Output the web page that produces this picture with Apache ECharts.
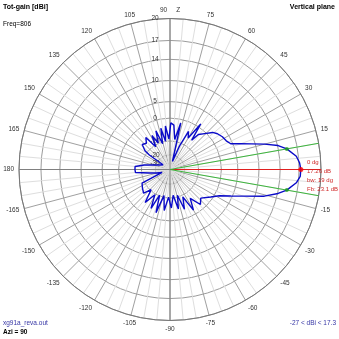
<!DOCTYPE html>
<html><head><meta charset="utf-8">
<script src="https://cdn.jsdelivr.net/npm/echarts@6/dist/echarts.min.js"></script>
<style>html,body{margin:0;padding:0;background:#fff}#c{width:339px;height:339px}</style>
</head><body><div id="c"></div>
<script>
// ---- data ----
const ringLabels = [20, 17, 14, 10, 5, 0, -10, -20, -30];
const patternAngles = [-180,-175,-170,-165,-160,-154,-146,-138,-133,-127,-121,-116,-112,-108,-103,-98,-93,-88,-83,-78,-74,-70,-65,-60,-55,-49,-43,-34,-28,-23.5,-20,-15.8,-12.5,-10,-6,-3,
  0,3,6,10,12.5,15,17.5,20,23,27,32,37,41,46,51,53.5,56,60,64,68,73,77,81,85,89,92,96,99,102.5,106,110,114,118,122,127,132,138,143,145,146,155,160,165,170,175,180];
const patternGain = [-6.6,-6.8,-15.3,-21,-27,-8.6,-7.5,-6.4,-10.5,-3.8,-9.5,-3.0,-10.5,-2.2,-11,-3.8,-10.5,-5.0,-11.5,-4.2,-11,-3.4,-9,-1.6,-6.5,-1.8,-3.5,-0.8,1.5,4.6,7.5,11.8,14.1,15.4,16.7,17.2,
  17.26,17.1,16.7,15.4,14.1,11.8,9.2,6.9,4.5,3.7,3.3,2.6,1.7,-0.5,-2.3,-6,1.2,-6,-3.4,-12,-27,-1.3,-9,-2.5,-1.7,-9,-2.8,-10,-3.4,-11,-3.9,-9.7,-5,-11,-4.3,-6.5,-5.5,-8.5,-12,-27,-24.2,-21.4,-17.5,-11.4,-6.6,-6.6];
const maxAngle = 0, maxGain = 17.26;
const halfPowerAngles = [10, -10];
const halfPowerGain = [15.4, 15.4];
const infoLines = ['0 dg', '17.26 dB', 'bw: 19 dg', 'Fb: 23.1 dB'];

// ---- scale helpers (log-periodic radial scale) ----
const TOP = 20, K = 0.05;
const toV = db => Math.exp(K * (db - TOP));
const V0 = 0.0421;
const toA = a => ((((a - 90) % 360) + 360) % 360) + 90;

const FONT = 'Liberation Sans, Arial, sans-serif';
const chart = echarts.init(document.getElementById('c'), null, {renderer: 'canvas'});
const pt = (a, g) => [toV(g), toA(a)];
const lineS = (data, color, z, w) => ({type: 'line', coordinateSystem: 'polar', data, symbol: 'none', silent: true, animation: false, z, lineStyle: {color, width: w || 1}});

chart.setOption({
  backgroundColor: '#fff',
  animation: false,
  polar: {center: [170, 169.5], radius: [0, 151]},
  angleAxis: {
    type: 'value', min: 90, max: 450, interval: 15, startAngle: 90, clockwise: false,
    axisLine: {lineStyle: {color: '#777', width: 1}},
    axisTick: {show: false},
    minorTick: {show: false, splitNumber: 3},
    minorSplitLine: {show: true, lineStyle: {color: '#dedede', width: 1}},
    splitLine: {show: true, lineStyle: {color: '#a0a0a0', width: 1}},
    axisLabel: {
      margin: 5, fontSize: 6.5, color: '#333', fontFamily: FONT,
      formatter: v => { const a = v > 180 ? v - 360 : v; return a === 90 ? '90     Z' : (a === 0 ? '' : String(a)); }
    }
  },
  radiusAxis: {
    type: 'value', min: V0, max: 1,
    axisLine: {show: false},
    axisTick: {show: false, customValues: ringLabels.map(toV)},
    axisLabel: {
      customValues: ringLabels.map(toV), margin: 15, align: 'center',
      fontSize: 6.5, color: '#333', fontFamily: FONT,
      formatter: v => String(Math.round(TOP + Math.log(v) / K))
    },
    splitLine: {show: true, lineStyle: {color: '#9c9c9c', width: 1}}
  },
  series: [
    lineS([[1, 90], [1, 270]], '#808080', 3),
    lineS([[1, 180], [V0, 180]], '#808080', 3),
    lineS([[V0, toA(maxAngle)], [1, toA(maxAngle)]], '#e02020', 4),
    lineS([[1, toA(halfPowerAngles[0])], [V0, toA(0)], [1, toA(halfPowerAngles[1])]], '#3cb43c', 4),
    lineS(patternAngles.map((a, i) => pt(a, patternGain[i])), '#0a0ac8', 5, 1.4),
    {type: 'scatter', coordinateSystem: 'polar', symbolSize: 5, z: 6, silent: true,
     itemStyle: {color: '#ff0000'}, data: [pt(maxAngle, maxGain)]},
    {type: 'scatter', coordinateSystem: 'polar', symbolSize: 4, z: 6, silent: true,
     itemStyle: {color: '#20a020'}, data: halfPowerAngles.map((a, i) => pt(a, halfPowerGain[i]))}
  ],
  graphic: [
    {type: 'text', x: 3, y: 7, style: {text: 'Tot-gain [dBi]', font: 'bold 7px ' + FONT, fill: '#000', verticalAlign: 'middle'}},
    {type: 'text', x: 3, y: 24, style: {text: 'Freq=806', font: '6.5px ' + FONT, fill: '#000', verticalAlign: 'middle'}},
    {type: 'text', x: 335, y: 7, style: {text: 'Vertical plane', font: 'bold 7px ' + FONT, fill: '#000', align: 'right', verticalAlign: 'middle'}},
    {type: 'text', x: 3, y: 323.5, style: {text: 'xg91a_reva.out', font: '6.5px ' + FONT, fill: '#3535a5', verticalAlign: 'middle'}},
    {type: 'text', x: 3, y: 332, style: {text: 'Azi = 90', font: 'bold 6.5px ' + FONT, fill: '#000', verticalAlign: 'middle'}},
    {type: 'text', x: 336, y: 323.5, style: {text: '-27 < dBi < 17.3', font: '6.5px ' + FONT, fill: '#3535a5', align: 'right', verticalAlign: 'middle'}},
    ...infoLines.map((t, i) => ({type: 'text', x: 307, y: [162.5, 171, 180.5, 189.5][i],
      style: {text: t, font: '6px ' + FONT, fill: '#d02828', verticalAlign: 'middle'}, z: 10}))
  ]
});
</script></body></html>
